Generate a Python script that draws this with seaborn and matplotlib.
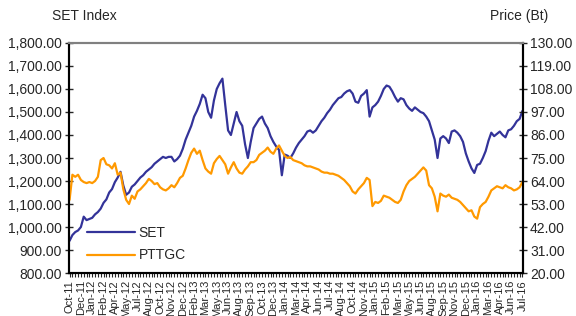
import numpy as np
import pandas as pd
import matplotlib
matplotlib.use("Agg")
import matplotlib.pyplot as plt
from matplotlib.ticker import FuncFormatter, MultipleLocator
import seaborn as sns

# 月份标签（等距排列，每个标签之间取 4 个采样点）
month_labels = [
    "Oct-11", "Dec-11", "Jan-12", "Feb-12", "Apr-12", "May-12", "Jul-12", "Aug-12",
    "Oct-12", "Nov-12", "Dec-12", "Feb-13", "Mar-13", "May-13", "Jun-13", "Aug-13",
    "Sep-13", "Oct-13", "Dec-13", "Jan-14", "Mar-14", "Apr-14", "Jun-14", "Jul-14",
    "Aug-14", "Oct-14", "Nov-14", "Jan-15", "Feb-15", "Mar-15", "May-15", "Jun-15",
    "Aug-15", "Sep-15", "Nov-15", "Dec-15", "Jan-16", "Mar-16", "Apr-16", "Jun-16",
    "Jul-16",
]
samples_per_label = 4

set_index = [
    940, 965, 978, 985, 1000, 1045, 1030, 1035, 1040, 1055,
    1065, 1080, 1105, 1120, 1150, 1165, 1195, 1215, 1240, 1180,
    1140, 1150, 1175, 1185, 1200, 1215, 1225, 1240, 1250, 1260,
    1275, 1285, 1295, 1305, 1300, 1305, 1305, 1285, 1295, 1310,
    1340, 1380, 1410, 1440, 1480, 1505, 1535, 1575, 1560, 1500,
    1475, 1550, 1600, 1625, 1645, 1530, 1420, 1400, 1450, 1500,
    1460, 1440, 1360, 1300, 1370, 1430, 1450, 1470, 1480, 1450,
    1430, 1395, 1370, 1350, 1335, 1225, 1315, 1310, 1300, 1320,
    1345, 1365, 1380, 1395, 1415, 1420, 1410, 1420, 1440, 1460,
    1475, 1495, 1510, 1530, 1545, 1560, 1565, 1580, 1590, 1595,
    1580, 1545, 1540, 1570, 1580, 1595, 1480, 1520, 1530, 1545,
    1570, 1600, 1615, 1610, 1590, 1565, 1545, 1560, 1555, 1530,
    1515, 1505, 1520, 1510, 1500, 1495, 1480, 1460, 1420, 1380,
    1300, 1385, 1395, 1385, 1365, 1415, 1420, 1410, 1395, 1370,
    1320, 1285, 1255, 1235, 1270, 1275, 1300, 1330, 1375, 1410,
    1395, 1405, 1415, 1400, 1390, 1420, 1425, 1440, 1460, 1470,
    1505,
]

pttgc_price = [
    55, 67, 66, 67, 64.5, 63.5, 63, 63.5, 63, 64,
    66, 74, 75, 72, 71.5, 70, 72.5, 67, 68, 60,
    55, 53, 57, 55.5, 59, 60, 61.5, 63, 65, 64,
    62.5, 63, 61, 60, 59.5, 60.5, 62, 61, 63, 65.5,
    66.5, 70, 74, 77.5, 79.5, 77, 78.5, 74, 70, 68.5,
    67.5, 72.5, 74.5, 76, 74, 72, 67.5, 70.5, 73, 70,
    68, 67.5, 69.5, 71, 73, 73, 74, 76.5, 77.5, 78.5,
    80, 78, 77, 79.5, 81, 78.5, 76, 75, 75.5, 74,
    73.5, 73, 72.5, 71.5, 71, 71, 70.5, 70, 69.5, 68.5,
    68, 68, 67.5, 67.5, 67, 66.5, 65.5, 64.5, 63, 61.5,
    59, 58, 60, 61.5, 63, 65.5, 64.5, 52, 54, 53.5,
    54.5, 57, 56.5, 56, 55, 54, 53.5, 55, 59, 62,
    64, 65, 66, 67.5, 69, 70.5, 69, 62, 60.5, 56.5,
    49.5, 58, 57, 56.5, 57.5, 56, 55.5, 55, 54, 52.5,
    51, 49.5, 50, 47, 46, 51.5, 53, 54, 56.5, 59.5,
    60.5, 61.5, 61, 60.5, 62, 61, 60.5, 59.5, 60, 61,
    63.5,
]

set_color = "#333399"
pttgc_color = "#ff9900"


def main():
    sns.set_style("white")
    plt.rcParams["font.family"] = ["Liberation Sans", "DejaVu Sans"]

    df = pd.DataFrame({
        "pos": np.arange(len(set_index)) / samples_per_label,
        "SET": set_index,
        "PTTGC": pttgc_price,
    })

    fig = plt.figure(figsize=(5.76, 3.16), dpi=100)
    ax = fig.add_axes([0.1198, 0.136, 0.7882, 0.728])
    ax2 = ax.twinx()

    sns.lineplot(data=df, x="pos", y="SET", ax=ax, color=set_color, lw=1.6, label="SET", legend=False)
    sns.lineplot(data=df, x="pos", y="PTTGC", ax=ax2, color=pttgc_color, lw=1.6, label="PTTGC", legend=False)

    # 左轴：SET 指数
    ax.set_ylim(800, 1800)
    ax.set_yticks(np.arange(800, 1801, 100))
    ax.yaxis.set_major_formatter(FuncFormatter(lambda v, p: f"{v:,.2f}"))
    ax.set_xlim(-0.05, len(month_labels) - 1 + 0.05)
    ax.set_xticks(np.arange(len(month_labels)))
    ax.set_xticklabels(month_labels, rotation=90, fontsize=8)
    ax.xaxis.set_minor_locator(MultipleLocator(0.25))
    ax.set_xlabel("")
    ax.set_ylabel("")
    ax.tick_params(axis="y", labelsize=10, direction="inout", length=6, width=1, left=True, pad=2)
    ax.tick_params(axis="x", which="both", direction="out", length=3, width=0.8, bottom=True, pad=2)

    # 右轴：PTTGC 价格
    ax2.set_ylim(20, 130)
    ax2.set_yticks(np.arange(20, 131, 11))
    ax2.yaxis.set_major_formatter(FuncFormatter(lambda v, p: f"{v:.2f}"))
    ax2.set_ylabel("")
    ax2.tick_params(axis="y", labelsize=10, direction="inout", length=6, width=1, right=True, pad=2)

    for a in (ax, ax2):
        for side in ("left", "right", "bottom"):
            a.spines[side].set_color("black")
            a.spines[side].set_linewidth(1.5)
        a.spines["top"].set_color("#808080")
        a.spines["top"].set_linewidth(1.5)

    fig.text(0.09, 0.95, "SET Index", fontsize=10, ha="left", va="center")
    fig.text(0.952, 0.95, "Price (Bt)", fontsize=10, ha="right", va="center")

    h1, l1 = ax.get_legend_handles_labels()
    h2, l2 = ax2.get_legend_handles_labels()
    ax2.legend(h1 + h2, l1 + l2, loc="lower left", bbox_to_anchor=(0.013, -0.008),
               frameon=False, fontsize=10, handlelength=3.4, labelspacing=0.6,
               handletextpad=0.3)

    fig.savefig("out.png", dpi=100)
    plt.close(fig)


if __name__ == "__main__":
    main()
